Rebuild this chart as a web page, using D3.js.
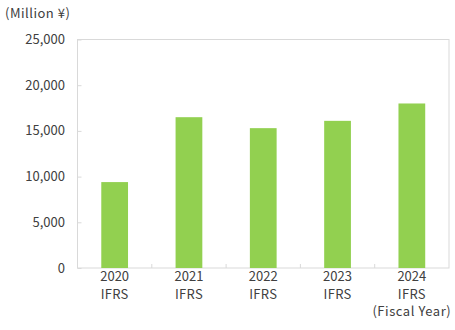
<!DOCTYPE html>
<html><head><meta charset="utf-8">
<script src="https://cdn.jsdelivr.net/npm/d3@7"></script>
<style>body{margin:0;background:#fff}svg text{font-family:"Noto Sans CJK JP","Noto Sans",sans-serif;fill:#404040}</style>
</head><body>
<svg id="c" width="455" height="330"></svg>
<script>
const years = ["2020","2021","2022","2023","2024"];
const standards = ["IFRS","IFRS","IFRS","IFRS","IFRS"];
const values = [9400, 16500, 15300, 16100, 18000];
const yTicks = [0, 5000, 10000, 15000, 20000, 25000];
const unitLabel = "(Million ¥)";
const fiscalLabel = "(Fiscal Year)";

const svg = d3.select("#c");
const m = {l:77.5, r:449, t:39.5, b:268};
const x = d3.scaleBand().domain(years).range([m.l, m.r]).paddingInner(0.64).paddingOuter(0.32);
const y = d3.scaleLinear().domain([0, 25000]).range([m.b, m.t]);

// plot border
svg.append("rect").attr("x", m.l).attr("y", m.t).attr("width", m.r - m.l).attr("height", m.b - m.t)
  .attr("fill","none").attr("stroke","#d9d9d9").attr("stroke-width",1);

// y axis
const yAxis = svg.append("g").attr("transform",`translate(${m.l},0)`)
  .call(d3.axisRight(y).tickValues(yTicks).tickSize(4).tickFormat(""));
yAxis.select(".domain").remove();
yAxis.selectAll("line").attr("stroke","#d9d9d9");
svg.append("g").selectAll("text").data(yTicks).join("text")
  .attr("x", 65).attr("y", d => y(d)).attr("dy","0.35em").attr("text-anchor","end")
  .attr("font-size", 13).text(d => d3.format(",")(d));

// x boundary ticks
const bounds = d3.range(1, years.length).map(i => m.l + (m.r - m.l) * i / years.length);
svg.append("g").selectAll("line").data(bounds).join("line")
  .attr("x1", d => d).attr("x2", d => d).attr("y1", m.b).attr("y2", m.b - 4)
  .attr("stroke","#d9d9d9");

// bars
svg.append("g").selectAll("rect").data(values).join("rect")
  .attr("x", (d,i) => x(years[i])).attr("y", d => y(d))
  .attr("width", x.bandwidth()).attr("height", d => y(0) - y(d))
  .attr("fill", "#92d050");

// x labels
const xl = svg.append("g");
years.forEach((yr, i) => {
  const cx = x(yr) + x.bandwidth()/2;
  xl.append("text").attr("x", cx).attr("y", 281).attr("text-anchor","middle").attr("font-size",13).text(yr);
  xl.append("text").attr("x", cx).attr("y", 298.5).attr("text-anchor","middle").attr("font-size",13).attr("letter-spacing",0.3).text(standards[i]);
});
xl.append("text").attr("x", x(years[4]) + x.bandwidth()/2).attr("y", 316).attr("text-anchor","middle")
  .attr("font-size",13).attr("letter-spacing",0.55).text(fiscalLabel);

svg.append("text").attr("x", 5).attr("y", 17.5).attr("font-size", 13).attr("letter-spacing",0.5).text(unitLabel);
</script>
</body></html>
